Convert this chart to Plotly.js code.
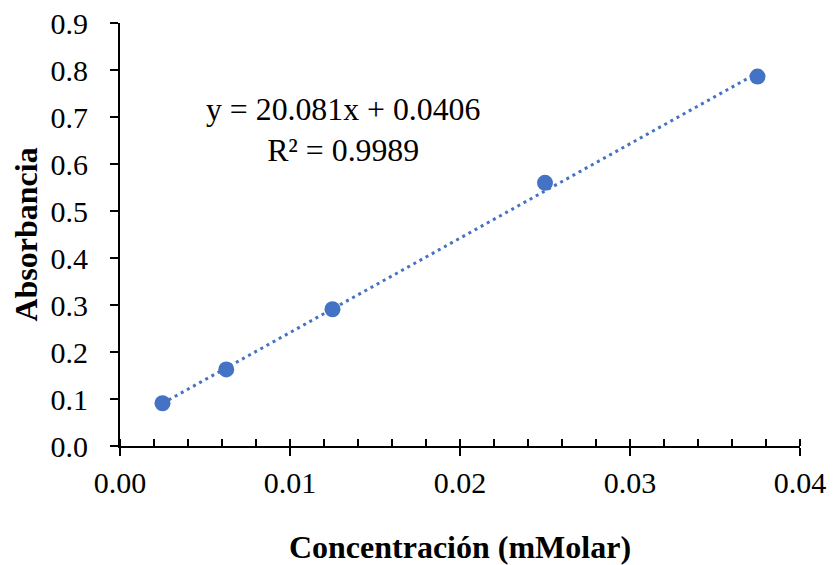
<!DOCTYPE html>
<html>
<head>
<meta charset="utf-8">
<script src="https://cdn.plot.ly/plotly-3.0.1.min.js"></script>
<style>html,body{margin:0;padding:0;background:#fff;}#chart{width:834px;height:565px;}</style>
</head>
<body>
<div id="chart"></div>
<script>
// Data
const concentracion = [0.0025, 0.00625, 0.0125, 0.025, 0.0375];
const absorbancia = [0.091, 0.163, 0.291, 0.560, 0.786];
const pendiente = 20.081;
const intercepto = 0.0406;
const r2 = 0.9989;
const xTickVals = [0, 0.01, 0.02, 0.03, 0.04];
const xTickText = ['0.00', '0.01', '0.02', '0.03', '0.04'];
const yTickVals = [0, 0.1, 0.2, 0.3, 0.4, 0.5, 0.6, 0.7, 0.8, 0.9];
const yTickText = ['0.0', '0.1', '0.2', '0.3', '0.4', '0.5', '0.6', '0.7', '0.8', '0.9'];

const blue = '#4472C4';
const serif = 'Liberation Serif, Times New Roman, serif';

const xMin = Math.min(...concentracion), xMax = Math.max(...concentracion);
const trendX = [xMin, xMax];
const trendY = trendX.map(v => pendiente * v + intercepto);

const traces = [
  {x: trendX, y: trendY, type: 'scatter', mode: 'lines',
   line: {color: blue, width: 3, dash: '3px,4px'}, hoverinfo: 'skip', showlegend: false},
  {x: concentracion, y: absorbancia, type: 'scatter', mode: 'markers',
   marker: {color: blue, size: 16}, showlegend: false},
  {x: [null], y: [null], xaxis: 'x2', yaxis: 'y', showlegend: false}
];

const layout = {
  width: 834, height: 565,
  margin: {l: 120, r: 34, t: 23, b: 119},
  paper_bgcolor: '#fff', plot_bgcolor: '#fff',
  font: {family: serif, color: '#000', size: 30},
  showlegend: false,
  xaxis: {
    range: [0, 0.04], tickvals: xTickVals, ticktext: xTickText,
    showgrid: false, zeroline: false, showline: true, linecolor: '#000', linewidth: 2,
    ticks: 'outside', ticklen: 8, tickwidth: 2, tickcolor: '#000',
    minor: {dtick: 0.002, ticks: 'inside', ticklen: 7, tickwidth: 2, tickcolor: '#000', showgrid: false},
    tickfont: {family: serif, size: 30, color: '#000'},
    ticklabelstandoff: 1,
    title: {text: '<b>Concentración (mMolar)</b>', font: {family: serif, size: 32, color: '#000'}, standoff: 39}
  },
  xaxis2: {
    overlaying: 'x', matches: 'x', range: [0, 0.04], tickvals: xTickVals, showticklabels: false,
    ticks: 'inside', ticklen: 7, tickwidth: 2, tickcolor: '#000', showgrid: false, zeroline: false,
    showline: false, side: 'bottom'
  },
  yaxis: {
    range: [0, 0.9], tickvals: yTickVals, ticktext: yTickText,
    showgrid: false, zeroline: false, showline: true, linecolor: '#000', linewidth: 2,
    ticks: 'outside', ticklen: 8, tickwidth: 2, tickcolor: '#000',
    tickfont: {family: serif, size: 30, color: '#000'},
    ticklabelstandoff: 16,
    title: {text: '<b>Absorbancia</b>', font: {family: serif, size: 32, color: '#000'}, standoff: 3}
  },
  annotations: [{
    x: 0.01312, y: 0.672, xref: 'x', yref: 'y',
    text: 'y = ' + pendiente.toFixed(3) + 'x + ' + intercepto.toFixed(4) + '<br>R² = ' + r2.toFixed(4),
    showarrow: false, align: 'center',
    font: {family: serif, size: 31.8, color: '#000'}
  }]
};

Plotly.newPlot('chart', traces, layout, {displayModeBar: false, staticPlot: true});
</script>
</body>
</html>
